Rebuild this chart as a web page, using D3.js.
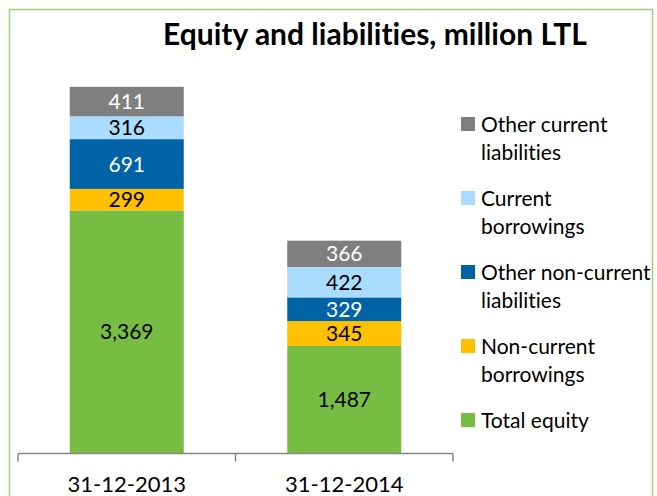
<!DOCTYPE html>
<html>
<head>
  <meta charset="utf-8">
  <title>Equity and liabilities</title>
  <script src="https://d3js.org/d3.v7.min.js"></script>
  <style>
    body { margin: 0; background: #fff; }
    svg { display: block; font-family: Lato, "Open Sans", sans-serif; font-variant-ligatures: none; }
  </style>
</head>
<body>
  <div id="chart"></div>
  <script>
    // Data
    var categories = ["31-12-2013", "31-12-2014"];
    var seriesNames = ["Total equity", "Non-current borrowings", "Other non-current liabilities", "Current borrowings", "Other current liabilities"];
    var totalEquity = [3369, 1487];
    var nonCurrentBorrowings = [299, 345];
    var otherNonCurrent = [691, 329];
    var currentBorrowings = [316, 422];
    var otherCurrent = [411, 366];
    var legendLines = [
      ["Other current", "liabilities"],
      ["Current", "borrowings"],
      ["Other non-current", "liabilities"],
      ["Non-current", "borrowings"],
      ["Total equity"]
    ];

    var colors = ["#77bd43", "#ffc000", "#0063a6", "#aadcfe", "#7f7f7f"];
    var labelColors = ["#000", "#000", "#fff", "#000", "#fff"];

    var width = 657, height = 496;
    var svg = d3.select("#chart").append("svg")
      .attr("width", width)
      .attr("height", height);

    // chart border
    svg.append("rect")
      .attr("x", 9.5).attr("y", 9.5)
      .attr("width", 643).attr("height", 500)
      .attr("fill", "none")
      .attr("stroke", "#9fd07c")
      .attr("stroke-width", 1.5);

    svg.append("text")
      .attr("x", 375).attr("y", 45)
      .attr("text-anchor", "middle")
      .style("font-size", "30px")
      .style("font-weight", "bold")
      .text("Equity and liabilities, million LTL");

    // build rows for the stack
    var rows = categories.map(function(c, i) {
      return {
        cat: c,
        s0: totalEquity[i],
        s1: nonCurrentBorrowings[i],
        s2: otherNonCurrent[i],
        s3: currentBorrowings[i],
        s4: otherCurrent[i]
      };
    });
    var keys = ["s0", "s1", "s2", "s3", "s4"];
    var stacked = d3.stack().keys(keys)(rows);

    var pad = 1 - 114 / 217.5;
    var x = d3.scaleBand().domain(categories).range([18, 453])
      .paddingInner(pad).paddingOuter(pad / 2);
    var y = d3.scaleLinear().domain([0, 6000]).range([453, 21]);

    var layers = svg.selectAll("g.layer")
      .data(stacked)
      .enter().append("g")
      .attr("class", "layer")
      .attr("fill", function(d, i) { return colors[i]; });

    layers.selectAll("rect")
      .data(function(d) { return d; })
      .enter().append("rect")
      .attr("x", function(d) { return x(d.data.cat); })
      .attr("y", function(d) { return y(d[1]); })
      .attr("width", x.bandwidth())
      .attr("height", function(d) { return y(d[0]) - y(d[1]); });

    // data labels
    stacked.forEach(function(layer, li) {
      svg.append("g").selectAll("text")
        .data(layer)
        .enter().append("text")
        .attr("x", function(d) { return x(d.data.cat) + x.bandwidth() / 2; })
        .attr("y", function(d) { return (y(d[0]) + y(d[1])) / 2; })
        .attr("dy", "0.36em")
        .attr("text-anchor", "middle")
        .attr("fill", labelColors[li])
        .style("font-size", "21px")
        .text(function(d) { return d3.format(",")(d[1] - d[0]); });
    });

    // category axis (ticks sit between categories, like Excel)
    var axisY = 453.5;
    var bounds = [0, 1, 2].map(function(i) {
      return x(categories[0]) - x.step() * pad / 2 + i * x.step();
    });
    var axis = svg.append("g").attr("stroke", "#868686").attr("stroke-width", 1.5);
    axis.append("line")
      .attr("x1", bounds[0]).attr("x2", bounds[2])
      .attr("y1", axisY).attr("y2", axisY);
    axis.selectAll("line.tick")
      .data(bounds)
      .enter().append("line")
      .attr("class", "tick")
      .attr("x1", function(d) { return d; }).attr("x2", function(d) { return d; })
      .attr("y1", axisY).attr("y2", axisY + 8);

    svg.append("g").selectAll("text")
      .data(categories)
      .enter().append("text")
      .attr("x", function(d) { return x(d) + x.bandwidth() / 2; })
      .attr("y", 484)
      .attr("dy", "0.36em")
      .attr("text-anchor", "middle")
      .style("font-size", "22px")
      .text(function(d) { return d; });

    // legend (top to bottom in reverse stack order)
    var legendOrder = [4, 3, 2, 1, 0];
    var legend = svg.append("g").selectAll("g")
      .data(legendOrder)
      .enter().append("g")
      .attr("transform", function(d, i) { return "translate(461," + (124 + i * 74) + ")"; });

    legend.append("rect")
      .attr("x", 0).attr("y", -7)
      .attr("width", 14).attr("height", 14)
      .attr("fill", function(d) { return colors[d]; });

    legend.each(function(d, i) {
      var t = d3.select(this).append("text")
        .attr("x", 20)
        .style("font-size", "21px")
        .attr("fill", "#000");
      legendLines[i].forEach(function(line, j) {
        t.append("tspan")
          .attr("x", 20)
          .attr("y", j * 28.5)
          .attr("dy", "0.36em")
          .text(line);
      });
    });
  </script>
</body>
</html>
